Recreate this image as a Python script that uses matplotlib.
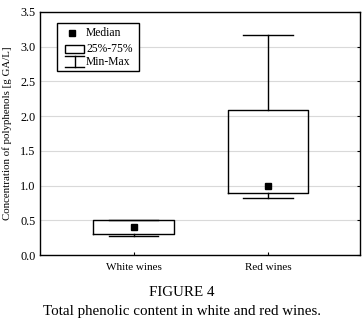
import matplotlib
matplotlib.use("Agg")
import matplotlib.pyplot as plt
from matplotlib.patches import Rectangle
from matplotlib.lines import Line2D

# Datos
categories = ["White wines", "Red wines"]
medians = [0.41, 0.99]
q1 = [0.30, 0.90]
q3 = [0.50, 2.09]
mins = [0.28, 0.82]
maxs = [0.51, 3.17]

W, H, DPI = 364, 327, 100
plt.rcParams["font.family"] = ["Liberation Serif", "DejaVu Serif"]

fig = plt.figure(figsize=(W / DPI, H / DPI), dpi=DPI)
ax = fig.add_axes([39.5 / W, 72 / H, 320 / W, 243 / H])

stats = [dict(med=m, q1=a, q3=b, whislo=lo, whishi=hi, label=c)
         for c, m, a, b, lo, hi in zip(categories, medians, q1, q3, mins, maxs)]
pos = list(range(len(categories)))
lp = dict(color="black", lw=1.0)
ax.bxp(stats, positions=pos, widths=0.6, capwidths=0.37, showfliers=False,
       boxprops=lp, whiskerprops=lp, capprops=lp,
       medianprops=dict(lw=0))
ax.plot(pos, medians, "s", color="black", ms=4, zorder=4)

ax.set_xlim(-0.7, 1.68)
ax.set_ylim(0, 3.5)
ax.set_yticks([0, 0.5, 1.0, 1.5, 2.0, 2.5, 3.0, 3.5])
ax.set_yticklabels([f"{v:.1f}" for v in ax.get_yticks()])
ax.set_xticks(pos)
ax.set_xticklabels(categories)
ax.grid(axis="y", color="#d9d9d9", lw=0.8)
ax.set_axisbelow(True)
ax.tick_params(axis="y", direction="in", length=2.5, right=True, left=False,
               labelsize=8.8, pad=3)
ax.tick_params(axis="x", direction="in", length=2.5, labelsize=8, pad=6)
for s in ax.spines.values():
    s.set_linewidth(1.0)
ax.set_ylabel("Concentration of polyphenols [g GA/L]", fontsize=7.8, labelpad=6)

# Leyenda manual (coordenadas de ejes)
def px2ax(x, y):
    return (x - 39.5) / 320, (255 - y) / 243

x0, y1 = px2ax(57, 23)
x1, y0 = px2ax(139, 71)
ax.add_patch(Rectangle((x0, y0), x1 - x0, y1 - y0, transform=ax.transAxes,
                       facecolor="white", edgecolor="black", lw=1.0, zorder=5))
mx, my = px2ax(72, 33)
ax.plot([mx], [my], "s", color="black", ms=4, transform=ax.transAxes, zorder=6)
bx0, by1 = px2ax(65, 45)
bx1, by0 = px2ax(84, 52.5)
ax.add_patch(Rectangle((bx0, by0), bx1 - bx0, by1 - by0, transform=ax.transAxes,
                       facecolor="white", edgecolor="black", lw=1.0, zorder=6))
tx0, ty = px2ax(65, 56)
tx1, tb = px2ax(84, 67)
tc = (tx0 + tx1) / 2
for xs, ys in [([tx0, tx1], [ty, ty]), ([tc, tc], [ty, tb]), ([tx0, tx1], [tb, tb])]:
    ax.add_line(Line2D(xs, ys, color="black", lw=1.0, transform=ax.transAxes, zorder=6))
for label, yy in [("Median", 33), ("25%-75%", 48.5), ("Min-Max", 62)]:
    lx, ly = px2ax(86, yy)
    ax.text(lx, ly, label, transform=ax.transAxes, fontsize=8.4,
            va="center", ha="left", zorder=7)

fig.text(0.5, 1 - 292 / H, "FIGURE 4", ha="center", va="center", fontsize=10.8)
fig.text(0.5, 1 - 312 / H, "Total phenolic content in white and red wines.",
         ha="center", va="center", fontsize=10.8)

fig.savefig("out.png", dpi=DPI)
